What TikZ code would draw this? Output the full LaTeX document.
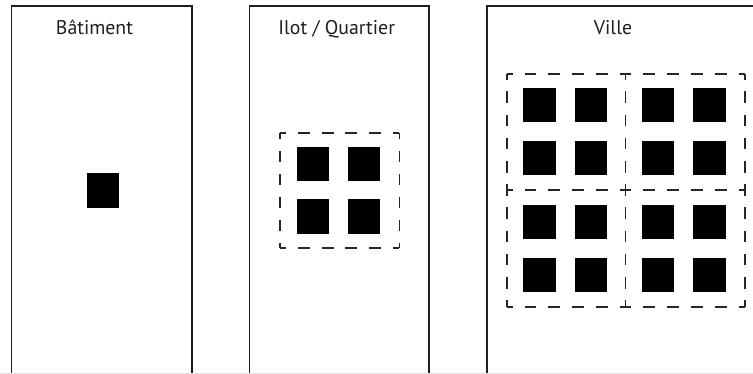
\documentclass[tikz,border=0pt]{standalone}
\usepackage{fontspec}
\setmainfont{PT Sans}
\begin{document}
\begin{tikzpicture}[x=1pt,y=-1pt,
  panel/.style={draw=black!88,line width=1.2pt},
  bloc/.style={fill=black,draw=none,inner sep=0pt,minimum width=32.3pt,minimum height=34.3pt},
  titre/.style={anchor=base,font=\fontsize{19.8pt}{21pt}\selectfont,text=black!88,inner sep=0pt},
  hseg/.style={draw=black!85,line width=1.6pt,dash pattern=on 11.9pt off 11.9pt,dash phase=5.95pt},
  vseg/.style={draw=black!85,line width=1.6pt,dash pattern=on 11.6pt off 11.6pt,dash phase=5.8pt}]
\clip (0,0) rectangle (753,374);
\fill[white] (0,0) rectangle (753,374);
% panels
\draw[panel] (11.5,380) -- (11.5,6) -- (192,6) -- (192,380);
\draw[panel] (249.5,380) -- (249.5,6) -- (429,6) -- (429,380);
\draw[panel] (487,380) -- (487,6) -- (760,6);
\draw[black!10,line width=0.8pt] (0,373.6) -- (753,373.6);
% titles
\node[titre] (t1) at (94.5,35) {Bâtiment};
\node[titre] (t2) at (336.7,35) {Ilot / Quartier};
\node[titre] (t3) at (613,35) {Ville};
% panel 1
\node[bloc,minimum width=32pt,minimum height=35pt] (b0) at (103.3,190.8) {};
% panel 2
\foreach \i/\x in {1/312.9,2/364.3}
  \foreach \j/\y in {1/163.9,2/216.5}
    \node[bloc] (q\i\j) at (\x,\y) {};
\coordinate (qa) at (280,133.3);
\coordinate (qb) at (399.3,133.3);
\coordinate (qc) at (399.3,248.3);
\coordinate (qd) at (280,248.3);
\draw[hseg] (qa) -- (qb);
\draw[hseg] (qd) -- (qc);
\draw[vseg,dash pattern=on 11.5pt off 11.5pt,dash phase=5.75pt] (qa) -- (qd);
\draw[vseg,dash pattern=on 11.5pt off 11.5pt,dash phase=5.75pt] (qb) -- (qc);
% panel 3
\foreach \i/\x in {1/539.5,2/591.2,3/657.9,4/709.5}
  \foreach \j/\y in {1/105.3,2/157.7,3/222.2,4/275}
    \node[bloc] (v\i\j) at (\x,\y) {};
\foreach \c/\x in {1/506.7,2/625.5,3/745}
  \foreach \r/\y in {1/74,2/190,3/307.3}
    \coordinate (p\c\r) at (\x,\y);
\foreach \r in {1,2,3}{
  \draw[hseg] (p1\r) -- (p2\r);
  \draw[hseg] (p2\r) -- (p3\r);
}
\foreach \c in {1,2,3}{
  \draw[vseg] (p\c1) -- (p\c2);
  \draw[vseg] (p\c2) -- (p\c3);
}
\end{tikzpicture}
\end{document}
